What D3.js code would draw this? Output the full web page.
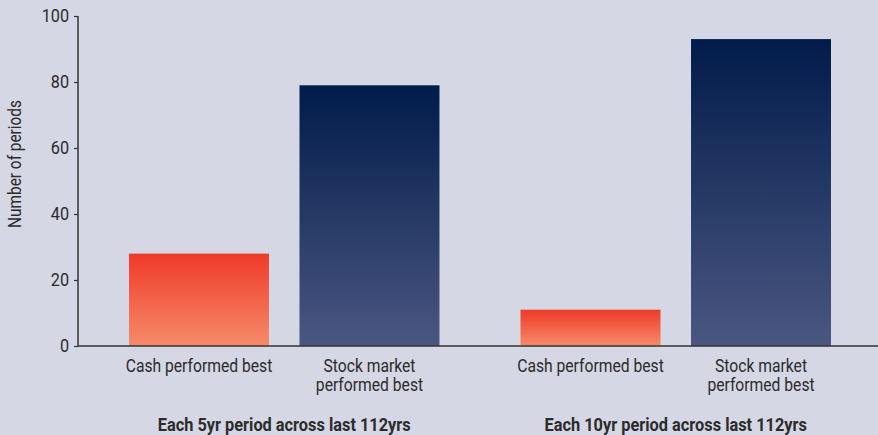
<!DOCTYPE html>
<html><head><meta charset="utf-8">
<script src="https://cdn.jsdelivr.net/npm/d3@7"></script>
<style>
html,body{margin:0;padding:0;background:#d5d7e4;}
svg{display:block;}
text{font-family:Roboto,"Noto Sans",Arial,sans-serif;fill:#2b2b2b;}
</style></head><body>
<svg id="chart" width="878" height="435"></svg>
<script>
const groups = ["Each 5yr period across last 112yrs", "Each 10yr period across last 112yrs"];
const categories = ["Cash performed best", "Stock market performed best"];
const categoryLines = [["Cash performed best"], ["Stock market", "performed best"]];
const cashValues = [28, 11];
const stockValues = [79, 93];
const yTicks = [0, 20, 40, 60, 80, 100];

const W = 878, H = 435;
const FONT = 'Roboto,"Noto Sans",Arial,sans-serif';
const svg = d3.select("#chart");
const axisX = 78, y0 = 346, yTop = 16;

// emulate a condensed face by compressing glyphs horizontally
function condense(node, factor) {
  const w = node.getComputedTextLength();
  d3.select(node).attr("textLength", w * factor).attr("lengthAdjust", "spacingAndGlyphs");
}

const defs = svg.append("defs");
const gradSpecs = [
  {id: "gCash", top: "#ef3a29", bottom: "#f68b6a"},
  {id: "gStock", top: "#011b4a", bottom: "#4a5781"}
];
gradSpecs.forEach(g => {
  const lg = defs.append("linearGradient").attr("id", g.id).attr("x1", 0).attr("y1", 0).attr("x2", 0).attr("y2", 1);
  lg.append("stop").attr("offset", "0%").attr("stop-color", g.top);
  lg.append("stop").attr("offset", "100%").attr("stop-color", g.bottom);
});

const y = d3.scaleLinear().domain([0, 100]).range([y0, yTop]);
const x0 = d3.scaleBand().domain(groups).range([129, 831]).paddingInner(0.207).paddingOuter(0);
const x1 = d3.scaleBand().domain(categories).range([0, x0.bandwidth()]).paddingInner(0.179).paddingOuter(0);

const data = [];
groups.forEach((g, i) => {
  data.push({group: g, cat: categories[0], value: cashValues[i], fill: "url(#gCash)"});
  data.push({group: g, cat: categories[1], value: stockValues[i], fill: "url(#gStock)"});
});

svg.append("g").selectAll("rect").data(data).join("rect")
  .attr("x", d => x0(d.group) + x1(d.cat))
  .attr("width", x1.bandwidth())
  .attr("y", d => y(d.value))
  .attr("height", d => y(0) - y(d.value))
  .attr("fill", d => d.fill);

// y axis
const yAxis = d3.axisLeft(y).tickValues(yTicks).tickSize(4).tickPadding(5);
const ga = svg.append("g").attr("transform", `translate(${axisX},0)`).call(yAxis);
ga.select(".domain").attr("stroke", "#333").attr("stroke-width", 1.5).attr("d", `M0,${yTop}V${y0}`);
ga.selectAll(".tick line").attr("stroke", "#333").attr("stroke-width", 1.2);
ga.selectAll(".tick text").attr("font-size", 18).attr("fill", "#2b2b2b").style("font-family", FONT)
  .each(function () { condense(this, 0.9); });

// baseline
svg.append("line").attr("x1", axisX).attr("x2", W).attr("y1", y(0)).attr("y2", y(0))
  .attr("stroke", "#333").attr("stroke-width", 1.5);

// y label
svg.append("text").attr("transform", `translate(21,${(yTop + y0) / 2 - 17}) rotate(-90)`)
  .attr("text-anchor", "middle").attr("font-size", 17.5).text("Number of periods")
  .each(function () { condense(this, 0.88); });

// category labels
const lab = svg.append("g");
data.forEach(d => {
  const lines = categoryLines[categories.indexOf(d.cat)];
  const cx = x0(d.group) + x1(d.cat) + x1.bandwidth() / 2;
  const t = lab.append("text").attr("x", cx).attr("y", 372).attr("text-anchor", "middle").attr("font-size", 18);
  lines.forEach((l, i) => t.append("tspan").attr("x", cx).attr("dy", i === 0 ? 0 : 19).text(l));
  t.selectAll("tspan").each(function () { condense(this, 0.87); });
});

// group titles
svg.append("g").selectAll("text").data(groups).join("text")
  .attr("x", d => x0(d) + x0.bandwidth() / 2)
  .attr("y", 431)
  .attr("text-anchor", "middle")
  .attr("font-size", 19)
  .attr("font-weight", "bold")
  .text(d => d)
  .each(function () { condense(this, 0.86); });
</script>
</body></html>
